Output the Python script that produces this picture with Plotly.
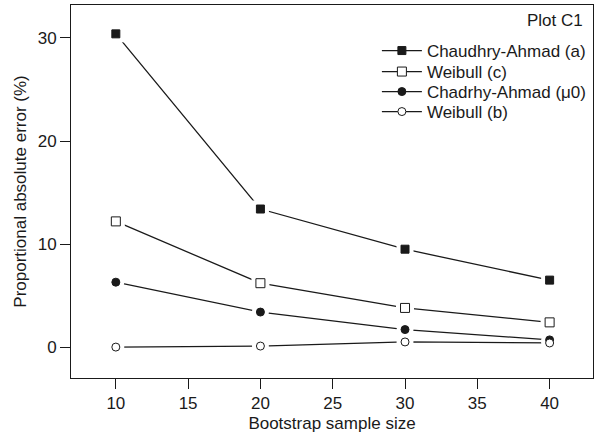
import plotly.graph_objects as go

sample_sizes = [10, 20, 30, 40]
chaudhry_a = [30.4, 13.4, 9.5, 6.5]
weibull_c = [12.2, 6.2, 3.8, 2.4]
chadrhy_mu0 = [6.3, 3.4, 1.7, 0.7]
weibull_b = [0.0, 0.1, 0.5, 0.4]

names = ["Chaudhry-Ahmad (a)", "Weibull (c)", "Chadrhy-Ahmad (\u03bc0)", "Weibull (b)"]
series = [chaudhry_a, weibull_c, chadrhy_mu0, weibull_b]
symbols = ["square", "square", "circle", "circle"]
fills = ["#1a1a1a", "white", "#1a1a1a", "white"]
sizes = [8, 9, 8, 8]
legend_ids = ["legend", "legend2", "legend3", "legend4"]
legend_rows_px = [51, 72, 92, 112]

INK = "#1a1a1a"
FONT = "Liberation Sans, Arial, sans-serif"
FS = 17

fig = go.Figure()

# lines with legend entries
for nm, ys, sym, fc, sz, lg in zip(names, series, symbols, fills, sizes, legend_ids):
    fig.add_trace(go.Scatter(
        x=sample_sizes, y=ys, name=nm, mode="lines+markers", legend=lg,
        line=dict(color=INK, width=1.3),
        marker=dict(symbol=sym, size=sz, color=fc, line=dict(color=INK, width=1)),
    ))
# white halos to create small gaps between lines and markers
for ys, sym, sz in zip(series, symbols, sizes):
    fig.add_trace(go.Scatter(
        x=sample_sizes, y=ys, mode="markers", showlegend=False, hoverinfo="skip",
        marker=dict(symbol=sym, size=sz + 9, color="white", line=dict(width=0)),
    ))
# markers on top
for ys, sym, fc, sz in zip(series, symbols, fills, sizes):
    fig.add_trace(go.Scatter(
        x=sample_sizes, y=ys, mode="markers", showlegend=False,
        marker=dict(symbol=sym, size=sz, color=fc, line=dict(color=INK, width=1)),
    ))

axis_common = dict(
    showgrid=False, zeroline=False, showline=True, linecolor=INK, linewidth=1,
    mirror=True, ticks="outside", ticklen=10, tickcolor=INK, tickwidth=1,
    tickfont=dict(family=FONT, size=FS, color=INK), automargin=False,
)

PLOT_TOP, PLOT_H = 5, 373
legend_layouts = {}
for lg, row in zip(legend_ids, legend_rows_px):
    legend_layouts[lg] = dict(
        x=0.586, y=1 - (row - 18 - PLOT_TOP) / PLOT_H, xanchor="left", yanchor="top",
        bgcolor="rgba(0,0,0,0)", borderwidth=0,
        font=dict(family=FONT, size=FS, color=INK), itemwidth=40,
    )

fig.update_layout(
    width=597, height=441,
    margin=dict(l=71, r=4, t=5, b=63),
    paper_bgcolor="white", plot_bgcolor="white",
    font=dict(family=FONT, size=FS, color=INK),
    xaxis=dict(range=[6.9, 43.0], tickvals=[10, 15, 20, 25, 30, 35, 40],
               title=dict(text="Bootstrap sample size", standoff=4,
                          font=dict(family=FONT, size=FS, color=INK)),
               **axis_common),
    yaxis=dict(range=[-3.0, 33.2], tickvals=[0, 10, 20, 30],
               title=dict(text="Proportional absolute error (%)", standoff=6,
                          font=dict(family=FONT, size=FS, color=INK)),
               **axis_common),
    showlegend=True,
    annotations=[dict(text="Plot C1", xref="paper", yref="paper",
                      x=(585 - 71) / 522, y=1 - (20 - 5) / 373,
                      xanchor="right", yanchor="middle", showarrow=False,
                      font=dict(family=FONT, size=FS, color=INK))],
    **legend_layouts,
)

fig.write_html("out.html", config={"displayModeBar": False},
               post_script="document.body.style.margin='0';document.body.style.padding='0';")
